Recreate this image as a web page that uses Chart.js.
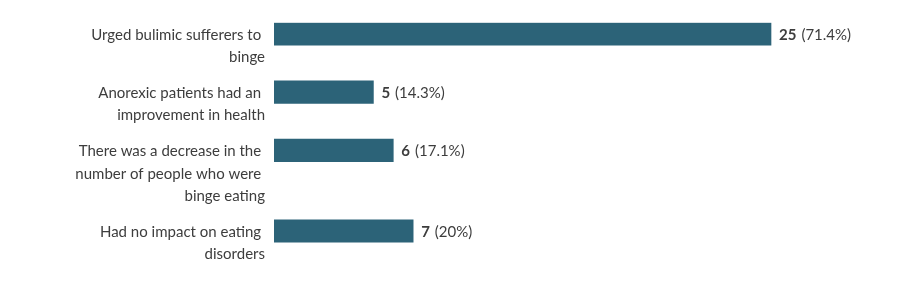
<!DOCTYPE html>
<html>
<head>
<meta charset="utf-8">
<script src="https://cdn.jsdelivr.net/npm/chart.js@4"></script>
<style>
  html, body { margin: 0; padding: 0; background: #fff; }
  #chart { display: block; }
</style>
</head>
<body>
<canvas id="chart" width="911" height="291"></canvas>
<script>
// Answer labels, already broken into lines as shown in the picture
const answerLines = [
    ["Urged bulimic sufferers to ", "binge"],
    ["Anorexic patients had an ", "improvement in health"],
    ["There was a decrease in the ", "number of people who were ", "binge eating"],
    ["Had no impact on eating ", "disorders"]
];
const responseCounts = [25, 5, 6, 7];
const responsePercents = ["71.4%", "14.3%", "17.1%", "20%"];

const barColor = "#2c6378";
const textColor = "#3d3d3d";
const font = "Lato";
const LINE = 22.4;      // px per label line
const GAP = 0.6;        // gap between rows, in lines
const X_MAX = 31;

// Row centres (in "line" units) follow the number of label lines per row
let cursor = 0;
const rowCentres = answerLines.map(lines => {
    const centre = cursor + 0.5;
    cursor += lines.length + GAP;
    return centre;
});
const yMax = cursor - GAP;

const labelPlugin = {
    id: "rowLabels",
    afterDatasetsDraw(chart) {
        const ctx = chart.ctx;
        const meta = chart.getDatasetMeta(0);
        ctx.save();
        ctx.textBaseline = "middle";
        meta.data.forEach((bar, i) => {
            // answer text on the left, right aligned, first line level with the bar
            ctx.font = "15px " + font;
            ctx.fillStyle = textColor;
            ctx.textAlign = "right";
            answerLines[i].forEach((line, j) => {
                ctx.fillText(line, 265, bar.y + 1 + j * LINE);
            });

            // count (bold) and percentage after the bar
            ctx.textAlign = "left";
            ctx.font = "bold 15px " + font;
            const countText = String(responseCounts[i]);
            const x0 = bar.x + 8;
            ctx.fillText(countText, x0, bar.y + 1);
            const w = ctx.measureText(countText).width;
            ctx.font = "15px " + font;
            ctx.fillText("(" + responsePercents[i] + ")", x0 + w + 5, bar.y + 1);
        });
        ctx.restore();
    }
};

document.addEventListener("DOMContentLoaded", function () {
    const ctx = document.getElementById("chart").getContext("2d");
    new Chart(ctx, {
        type: "bar",
        data: {
            datasets: [{
                data: responseCounts.map((v, i) => ({ x: v, y: rowCentres[i] })),
                backgroundColor: barColor,
                borderWidth: 0,
                barThickness: 22.5
            }]
        },
        options: {
            indexAxis: "y",
            responsive: false,
            animation: false,
            layout: {
                padding: { left: 274, right: 911 - 274 - X_MAX * 19.88, top: 22.7, bottom: 291 - 22.7 - yMax * LINE }
            },
            scales: {
                x: { type: "linear", min: 0, max: X_MAX, offset: false, display: false },
                y: { type: "linear", min: 0, max: yMax, reverse: true, offset: false, display: false }
            },
            plugins: {
                legend: { display: false },
                tooltip: { enabled: false }
            }
        },
        plugins: [labelPlugin]
    });
});
</script>
</body>
</html>
